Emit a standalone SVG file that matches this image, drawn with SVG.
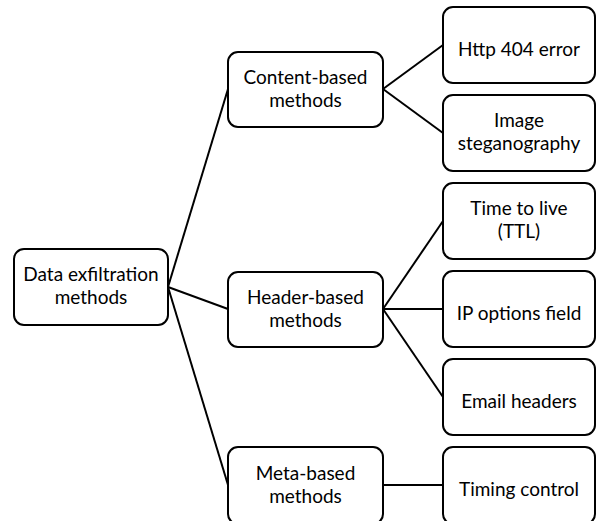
<svg xmlns="http://www.w3.org/2000/svg" width="597" height="521" viewBox="0 0 597 521">
<style>
.box{fill:#fff;stroke:#000;stroke-width:2}
.t{font-family:Lato,"Open Sans","Liberation Sans",sans-serif;font-size:19px;fill:#000;text-anchor:middle}
.c{stroke:#000;stroke-width:2;fill:none}
</style>
<rect width="597" height="521" fill="#fff"/>
<g id="connectors">
<line class="c" x1="168" y1="287" x2="228" y2="89"/>
<line class="c" x1="168" y1="287" x2="228" y2="309"/>
<line class="c" x1="168" y1="287" x2="228" y2="485"/>
<line class="c" x1="383" y1="89" x2="443" y2="45"/>
<line class="c" x1="383" y1="89" x2="443" y2="133"/>
<line class="c" x1="383" y1="309" x2="443" y2="221"/>
<line class="c" x1="383" y1="309" x2="443" y2="309"/>
<line class="c" x1="383" y1="309" x2="443" y2="397"/>
<line class="c" x1="383" y1="485" x2="443" y2="485"/>
</g>
<g id="root">
<rect class="box" x="14" y="249" width="154" height="76" rx="10"/>
<text class="t" x="91" y="281">Data exfiltration</text>
<text class="t" x="91" y="304">methods</text>
</g>
<g id="content">
<rect class="box" x="228" y="52" width="155" height="75" rx="10"/>
<text class="t" x="305.5" y="84">Content-based</text>
<text class="t" x="305.5" y="107">methods</text>
</g>
<g id="header">
<rect class="box" x="228" y="272" width="155" height="75" rx="10"/>
<text class="t" x="305.5" y="304">Header-based</text>
<text class="t" x="305.5" y="327">methods</text>
</g>
<g id="meta">
<rect class="box" x="228" y="447" width="155" height="77" rx="10"/>
<text class="t" x="305.5" y="480">Meta-based</text>
<text class="t" x="305.5" y="503">methods</text>
</g>
<g id="http404">
<rect class="box" x="443" y="7" width="152" height="76" rx="10"/>
<text class="t" x="519" y="56">Http 404 error</text>
</g>
<g id="stego">
<rect class="box" x="443" y="95" width="152" height="76" rx="10"/>
<text class="t" x="519" y="127">Image</text>
<text class="t" x="519" y="150">steganography</text>
</g>
<g id="ttl">
<rect class="box" x="443" y="183" width="152" height="76" rx="10"/>
<text class="t" x="519" y="215">Time to live</text>
<text class="t" x="519" y="238">(TTL)</text>
</g>
<g id="ipopt">
<rect class="box" x="443" y="271" width="152" height="76" rx="10"/>
<text class="t" x="519" y="320">IP options field</text>
</g>
<g id="email">
<rect class="box" x="443" y="359" width="152" height="76" rx="10"/>
<text class="t" x="519" y="408">Email headers</text>
</g>
<g id="timing">
<rect class="box" x="443" y="447" width="152" height="77" rx="10"/>
<text class="t" x="519" y="496">Timing control</text>
</g>
</svg>
